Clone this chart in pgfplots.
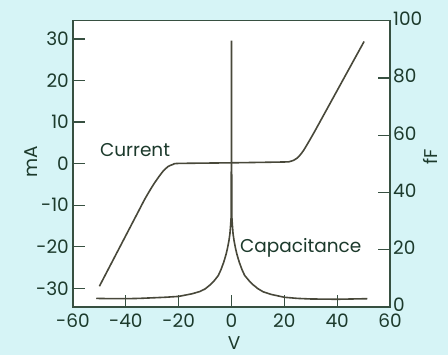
\documentclass[border=0pt]{standalone}
\usepackage{fontspec}
\setmainfont{Poppins}
\usepackage{pgfplots}
\pgfplotsset{compat=1.18}
\definecolor{bgcyan}{RGB}{214,244,246}
\definecolor{txt}{RGB}{28,58,44}
\definecolor{axc}{RGB}{55,80,65}
\definecolor{crv}{RGB}{72,72,58}
\begin{document}
\begin{tikzpicture}
\fill[bgcyan] (0,0) rectangle (448pt,355pt);
\useasboundingbox (0,0) rectangle (448pt,355pt);
\begin{axis}[at={(73pt,48pt)}, anchor=south west, scale only axis,
  width=317pt, height=286.3pt,
  xmin=-60, xmax=60, ymin=-34.5, ymax=34.4,
  xtick={-60,-40,...,60}, ytick={-30,-20,...,30},
  xticklabels={-60,-40,-20,0,20,40,60},
  yticklabels={-30,-20,-10,0,10,20,30},
  xtick pos=bottom, ytick pos=left,
  tick align=inside, major tick length=12pt,
  axis line style={axc, line width=1.4pt},
  tick style={axc, line width=1.2pt},
  ticklabel style={font=\fontsize{18.5}{20}\selectfont, text=txt, inner sep=2pt},
  yticklabel style={xshift=-2pt},
  xticklabel style={yshift=-5pt},
  axis background/.style={fill=white},
  xlabel={V}, ylabel={mA},
  label style={font=\fontsize{18.5}{20}\selectfont, text=txt},
  xlabel style={at={(axis description cs:0.508,-0.127)}, anchor=center},
  ylabel style={at={(axis description cs:-0.1325,0.506)}, anchor=center},
]
\addplot[crv, line width=1.6pt, smooth, tension=0.4] coordinates {
(-50,-29.5) (-40,-17.3) (-35,-11.2) (-32.7,-8.4) (-30,-5.5) (-28,-3.6) (-26,-1.9) (-24,-0.7) (-22,-0.15) (-20,0.05) (0,0.2) (20,0.4) (22,0.5) (23.5,0.8) (25,1.4) (26,2.1) (27.2,3.1) (29,5.0) (31.7,8.0) (40,17.6) (50.2,29.4)
};
\node[font=\fontsize{18.5}{20}\selectfont, text=txt] at (axis cs:-36.5,3.2) {Current};
\end{axis}
\begin{axis}[at={(73pt,48pt)}, anchor=south west, scale only axis,
  width=317pt, height=286.3pt,
  xmin=-60, xmax=60, ymin=0, ymax=100,
  axis x line=none, axis y line*=right,
  ytick={0,20,...,100},
  yticklabels={0,20,40,60,80,100},
  tick align=inside, major tick length=12pt,
  axis line style={axc, line width=1.4pt, -},
  tick style={axc, line width=1.2pt},
  ticklabel style={font=\fontsize{18.5}{20}\selectfont, text=txt, inner sep=2pt},
  yticklabel style={xshift=1pt, yshift=2pt},
  ylabel={fF},
  label style={font=\fontsize{18.5}{20}\selectfont, text=txt},
  ylabel style={at={(axis description cs:1.126,0.524)}, anchor=center, rotate=0},
]
\addplot[crv, line width=1.6pt] coordinates {
(-51.2,3.0) (-45,2.9) (-40,2.9) (-35,3.0) (-30,3.2) (-25,3.4) (-20,3.7) (-15,4.6) (-12,5.4) (-10,6.3) (-8,7.8) (-7,8.7) (-6,9.8) (-5,11) (-4,13) (-3,15.5) (-2.5,17) (-2,18.6) (-1.5,20.6) (-1,23) (-0.6,25.5) (-0.3,29) (-0.1,32) (0,93) (0.1,32) (0.3,29) (0.6,25.5) (1,23) (1.5,20.6) (2,18.6) (2.5,17) (3,15.5) (4,13) (5,11) (6,9.9) (7,8.8) (8,7.9) (10,6.4) (12,5.3) (15,4.4) (20,3.4) (25,3.0) (30,2.8) (40,2.7) (51.4,2.9)
};
\node[font=\fontsize{18.5}{20}\selectfont, text=txt] at (axis cs:26.2,20.5) {Capacitance};
\end{axis}
\end{tikzpicture}
\end{document}
